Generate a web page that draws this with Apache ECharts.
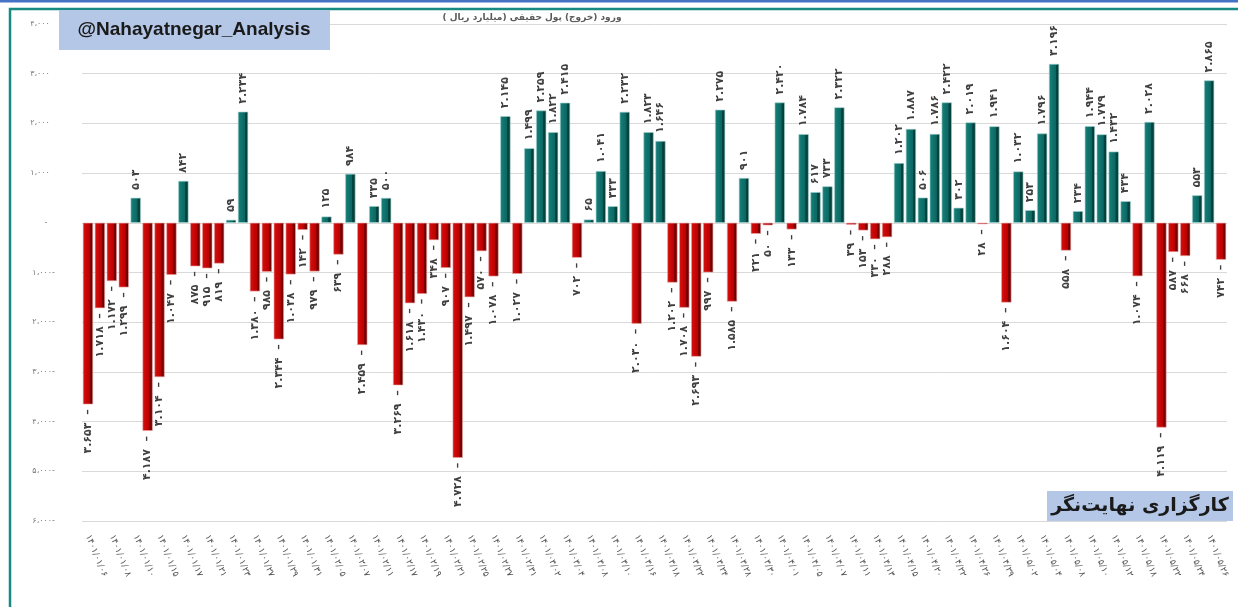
<!DOCTYPE html>
<html>
<head>
<meta charset="utf-8">
<script src="https://cdn.jsdelivr.net/npm/echarts@6/dist/echarts.min.js"></script>
<style>
  html, body { margin: 0; padding: 0; background: #fff; }
  #chart { width: 1238px; height: 607px; }
</style>
</head>
<body>
<div id="chart"></div>
<script>
// روزهای معاملاتی
const categories = [
  '1401/01/06', '1401/01/07', '1401/01/08', '1401/01/09', '1401/01/10', '1401/01/14', '1401/01/15', '1401/01/16',
  '1401/01/17', '1401/01/20', '1401/01/21', '1401/01/22', '1401/01/23', '1401/01/24', '1401/01/27', '1401/01/28',
  '1401/01/29', '1401/01/30', '1401/01/31', '1401/02/04', '1401/02/05', '1401/02/06', '1401/02/07', '1401/02/10',
  '1401/02/11', '1401/02/12', '1401/02/17', '1401/02/18', '1401/02/19', '1401/02/20', '1401/02/21', '1401/02/24',
  '1401/02/25', '1401/02/26', '1401/02/27', '1401/02/28', '1401/02/31', '1401/03/01', '1401/03/02', '1401/03/03',
  '1401/03/04', '1401/03/07', '1401/03/08', '1401/03/09', '1401/03/10', '1401/03/11', '1401/03/16', '1401/03/17',
  '1401/03/18', '1401/03/21', '1401/03/22', '1401/03/23', '1401/03/24', '1401/03/25', '1401/03/28', '1401/03/29',
  '1401/03/30', '1401/03/31', '1401/04/01', '1401/04/04', '1401/04/05', '1401/04/06', '1401/04/07', '1401/04/08',
  '1401/04/11', '1401/04/12', '1401/04/13', '1401/04/14', '1401/04/15', '1401/04/18', '1401/04/20', '1401/04/21',
  '1401/04/22', '1401/04/25', '1401/04/26', '1401/04/28', '1401/04/29', '1401/05/01', '1401/05/02', '1401/05/03',
  '1401/05/04', '1401/05/05', '1401/05/08', '1401/05/09', '1401/05/10', '1401/05/11', '1401/05/12', '1401/05/15',
  '1401/05/18', '1401/05/19', '1401/05/22', '1401/05/23', '1401/05/24', '1401/05/25', '1401/05/26', '1401/05/29'
]

// ورود (خروج) پول حقیقی - میلیارد ریال
const values = [
  -3653, -1718, -1172, -1299, 503, -4187, -3104, -1047, 842, -875,
  -915, -819, 59, 2234, -1380, -985, -2344, -1038, -142, -979,
  125, -639, 984, -2459, 335, 500, -3269, -1618, -1430, -348,
  -907, -4728, -1497, -570, -1078, 2145, -1027, 1499, 2259, 1822,
  2415, -702, 65, 1041, 333, 2232, -2030, 1823, 1646, -1202,
  -1708, -2693, -997, 2275, -1585, 901, -221, -50, 2420, -133,
  1784, 617, 733, 2322, -39, -153, -330, -288, 1202, 1887,
  506, 1786, 2422, 302, 2019, -28, 1941, -1604, 1032, 253,
  1796, 3196, -558, 234, 1944, 1779, 1432, 434, -1074, 2028,
  -4119, -587, -668, 553, 2865, -742
]

// محور عمودی
const yMin = -6000
const yMax = 4000
const yStep = 1000

const titleText = 'ورود (خروج) پول حقیقی (میلیارد ریال )'
const watermark = '@Nahayatnegar_Analysis'
const brand = 'کارگزاری نهایت‌نگر'

const FA = 'DejaVu Sans'
const toFa = s => String(s).replace(/\d/g, d => '۰۱۲۳۴۵۶۷۸۹'[d])
const group = (n, sep) => String(Math.abs(n)).replace(/\B(?=(\d{3})+(?!\d))/g, sep)

const chart = echarts.init(document.getElementById('chart'))

const tealGrad = new echarts.graphic.LinearGradient(0, 0, 1, 0, [
  { offset: 0, color: '#17807a' },
  { offset: 0.66, color: '#0b6762' },
  { offset: 0.7, color: '#054641' },
  { offset: 1, color: '#033b37' }
])
const redGrad = new echarts.graphic.LinearGradient(0, 0, 1, 0, [
  { offset: 0, color: '#d60f0f' },
  { offset: 0.66, color: '#bd0000' },
  { offset: 0.7, color: '#800000' },
  { offset: 1, color: '#6a0000' }
])

const barData = values.map(v => ({
  value: v,
  itemStyle: {
    color: v >= 0 ? tealGrad : redGrad,
    borderColor: v >= 0 ? '#9fd0cc' : '#e7a3a3',
    borderWidth: 0.6
  },
  label: v >= 0
    ? { position: 'top', align: 'left', verticalAlign: 'middle', distance: 8 }
    : { position: 'bottom', align: 'right', verticalAlign: 'middle', distance: 5 }
}))

chart.setOption({
  animation: false,
  grid: { left: 82, right: 11, top: 24, bottom: 86 },
  xAxis: {
    type: 'category',
    data: categories,
    axisLine: { show: false, onZero: false },
    axisTick: { show: false },
    axisLabel: {
      interval: 1,
      rotate: -68,
      margin: 14,
      fontFamily: FA,
      fontSize: 9,
      color: '#555555',
      formatter: v => toFa(v)
    }
  },
  yAxis: {
    type: 'value',
    min: yMin,
    max: yMax,
    interval: yStep,
    axisLine: { show: false },
    axisTick: { show: false },
    splitLine: { lineStyle: { color: '#d9d9d9', width: 1 } },
    axisLabel: {
      margin: 27,
      fontFamily: FA,
      fontSize: 8,
      color: '#7a7a7a',
      formatter: v => v === 0 ? '-   ' : toFa(group(v, '،')) + (v < 0 ? '-' : '  ')
    }
  },
  series: [{
    type: 'bar',
    data: barData,
    barCategoryGap: '15%',
    label: {
      show: true,
      rotate: 90,
      fontFamily: FA,
      fontSize: 11,
      fontWeight: 'bold',
      color: '#404040',
      formatter: p => toFa(group(p.value, '.')) + (p.value < 0 ? '  –' : '')
    }
  }],
  graphic: [
    { type: 'rect', z: 100, shape: { x: 0, y: 0, width: 1238, height: 2.5 }, style: { fill: '#4472c4' } },
    {
      type: 'polyline', z: 100,
      shape: { points: [[10, 607], [10, 9], [1238, 9]] },
      style: { stroke: '#178a84', lineWidth: 2.5, fill: null }
    },
    { type: 'rect', z: 100, shape: { x: 59, y: 10, width: 271, height: 40 }, style: { fill: '#b4c7e7' } },
    {
      type: 'text', z: 101, x: 194, y: 30,
      style: {
        text: watermark, fill: '#1a1a1a', align: 'center', verticalAlign: 'middle',
        font: 'bold 19px "Liberation Sans", Arial, sans-serif'
      }
    },
    {
      type: 'text', z: 101, x: 532, y: 18,
      style: {
        text: titleText, fill: '#595959', align: 'center', verticalAlign: 'middle',
        font: 'bold 9px "DejaVu Sans", sans-serif'
      }
    },
    { type: 'rect', z: 100, shape: { x: 1047, y: 491, width: 186, height: 30 }, style: { fill: '#b4c7e7' } },
    {
      type: 'text', z: 101, x: 1140, y: 506,
      style: {
        text: brand, fill: '#1a1a1a', align: 'center', verticalAlign: 'middle',
        font: 'bold 19px "DejaVu Sans", sans-serif'
      }
    }
  ]
})
</script>
</body>
</html>
